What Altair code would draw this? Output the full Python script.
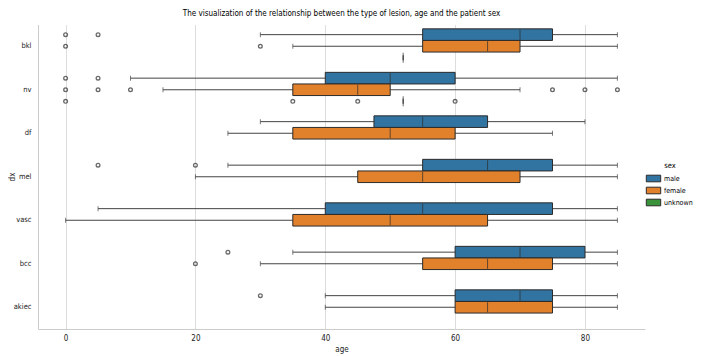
import altair as alt
import pandas as pd

dx_cats = ["bkl", "nv", "df", "mel", "vasc", "bcc", "akiec"]
sex_levels = ["male", "female", "unknown"]
sex_colors = ["#3274a1", "#e1812c", "#3a923a"]

# box statistics per (dx, sex)
box_dx  = ["bkl", "bkl", "bkl", "nv", "nv", "nv", "df", "df", "mel", "mel", "vasc", "vasc", "bcc", "bcc", "akiec", "akiec"]
box_sex = ["male", "female", "unknown", "male", "female", "unknown", "male", "female", "male", "female", "male", "female", "male", "female", "male", "female"]
box_lo  = [30, 35, 52, 10, 15, 52, 30, 25, 25, 20, 5, 0, 35, 30, 40, 40]
box_q1  = [55, 55, 52, 40, 35, 52, 47.5, 35, 55, 45, 40, 35, 60, 55, 60, 60]
box_med = [70, 65, 52, 50, 45, 52, 55, 50, 65, 55, 55, 50, 70, 65, 70, 65]
box_q3  = [75, 70, 52, 60, 50, 52, 65, 60, 75, 70, 75, 65, 80, 75, 75, 75]
box_hi  = [85, 85, 52, 85, 70, 52, 80, 75, 85, 85, 85, 85, 85, 85, 85, 85]

# outliers
out_dx  = ["bkl", "bkl", "bkl", "bkl", "nv", "nv", "nv", "nv", "nv", "nv", "nv", "nv", "nv", "nv", "nv", "nv", "mel", "mel", "bcc", "bcc", "akiec"]
out_sex = ["male", "male", "female", "female", "male", "male", "female", "female", "female", "female", "female", "female", "unknown", "unknown", "unknown", "unknown", "male", "male", "male", "female", "male"]
out_age = [0, 5, 0, 30, 0, 5, 0, 5, 10, 75, 80, 85, 0, 35, 45, 60, 5, 20, 25, 20, 30]

boxes = pd.DataFrame({"dx": box_dx, "sex": box_sex, "lo": box_lo, "q1": box_q1,
                      "med": box_med, "q3": box_q3, "hi": box_hi})
outl = pd.DataFrame({"dx": out_dx, "sex": out_sex, "age": out_age})

FONT = "Liberation Sans Narrow, DejaVu Sans Condensed, Liberation Sans, sans-serif"

xscale = alt.Scale(domain=[-4.25, 89.25], nice=False, zero=False)
y_enc = alt.Y("dx:N", scale=alt.Scale(domain=dx_cats, paddingInner=0, paddingOuter=0),
              axis=alt.Axis(title="dx", ticks=False, labelPadding=7, labelFontSize=7.5,
                            titleX=-26, titleY=152, titleAngle=270,
                            titleAlign="center", titleBaseline="middle",
                            domainColor="#cccccc", grid=False))
yoff = alt.YOffset("sex:N", scale=alt.Scale(domain=sex_levels, paddingInner=0, paddingOuter=0.375))
color = alt.Color("sex:N", scale=alt.Scale(domain=sex_levels, range=sex_colors),
                  legend=alt.Legend(title="sex", orient="none", legendX=609, legendY=137,
                                    symbolType="M-1.2,-0.55H1.2V0.55H-1.2Z", symbolSize=144,
                                    symbolStrokeColor="#2b2b2b", symbolStrokeWidth=1,
                                    titleAnchor="middle", labelFontSize=7, titleFontSize=7.5,
                                    titleFontWeight="normal", rowPadding=0, titlePadding=3,
                                    labelOffset=4))

whisk = alt.Chart(boxes).mark_rule(color="#444444", strokeWidth=1).encode(
    x=alt.X("lo:Q", scale=xscale, axis=alt.Axis(values=[0, 20, 40, 60, 80], title="age",
                                                 ticks=False, labelPadding=5, titlePadding=3,
                                                 grid=True, gridColor="#dddddd",
                                                 domainColor="#cccccc")),
    x2="hi:Q", y=y_enc, yOffset=yoff)

cap_lo = alt.Chart(boxes).mark_tick(color="#444444", size=5, thickness=1).encode(
    x=alt.X("lo:Q", scale=xscale), y=y_enc, yOffset=yoff)
cap_hi = alt.Chart(boxes).mark_tick(color="#444444", size=5, thickness=1).encode(
    x=alt.X("hi:Q", scale=xscale), y=y_enc, yOffset=yoff)

bars = alt.Chart(boxes).transform_filter(alt.datum.q3 > alt.datum.q1).mark_bar(
    stroke="#2b2b2b", strokeWidth=1).encode(
    x=alt.X("q1:Q", scale=xscale), x2="q3:Q", y=y_enc, yOffset=yoff, color=color)

med = alt.Chart(boxes).mark_tick(color="#2b2b2b", size=10, thickness=1).encode(
    x=alt.X("med:Q", scale=xscale), y=y_enc, yOffset=yoff)

pts = alt.Chart(outl).mark_point(shape="circle", filled=False, color="#2b2b2b",
                                 size=14, strokeWidth=1.3).encode(
    x=alt.X("age:Q", scale=xscale), y=y_enc, yOffset=yoff)

chart = alt.layer(whisk, cap_lo, cap_hi, bars, med, pts).properties(
    width=607, height=304.5,
    autosize=alt.AutoSizeParams(type="none"),
    padding={"left": 30, "top": 16.5, "right": 52, "bottom": 26},
    title=alt.TitleParams("The visualization of the relationship between the type of lesion, age and the patient sex",
                          fontSize=8, fontWeight="normal", anchor="middle", offset=7, font=FONT),
).configure(font=FONT).configure_axis(
    labelFontSize=8, titleFontSize=8, titleFontWeight="normal", labelColor="#222222",
    titleColor="#222222"
).configure_view(stroke=None)

chart.save("out.html", embed_options={"renderer": "svg", "actions": False})
